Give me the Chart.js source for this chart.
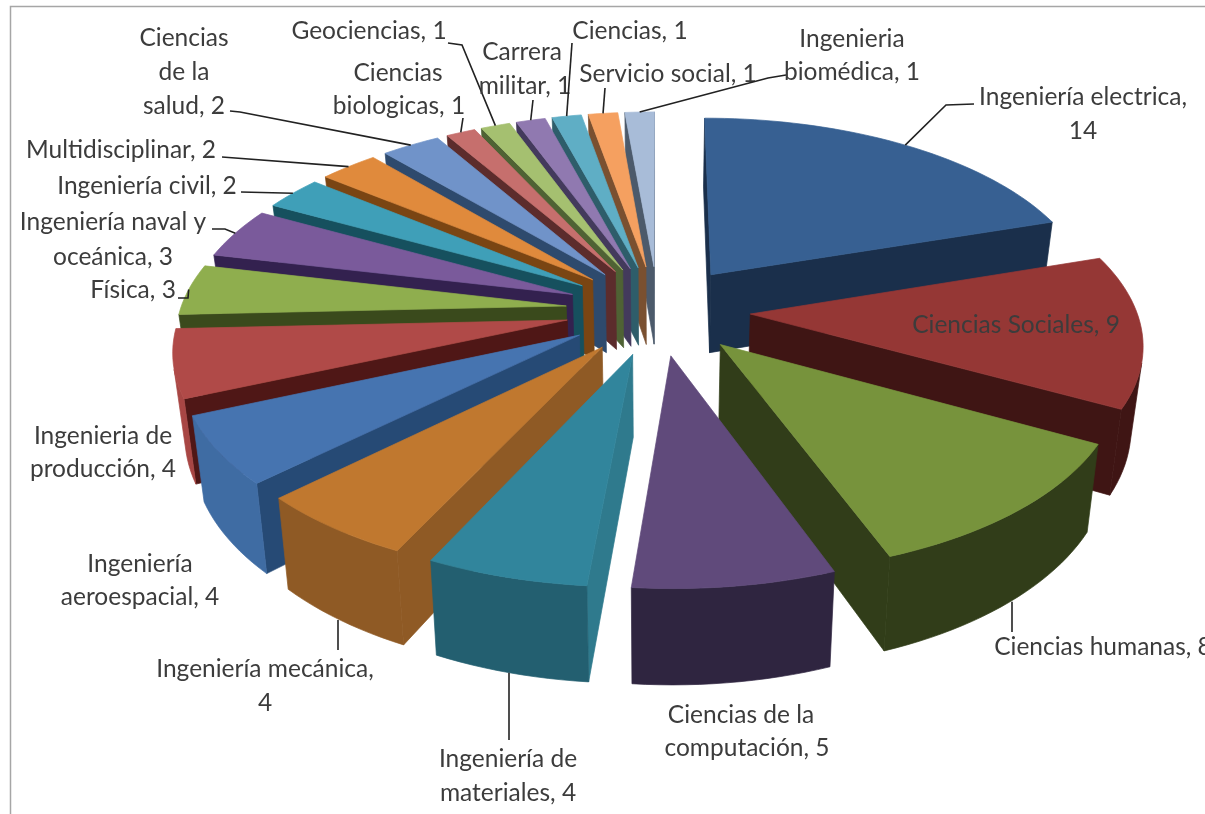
<!DOCTYPE html>
<html>
<head>
<meta charset="utf-8">
<style>
  html, body { margin: 0; padding: 0; background: #fff; }
  canvas { display: block; filter: blur(0.5px); }
</style>
<script src="https://cdn.jsdelivr.net/npm/chart.js@4"></script>
</head>
<body>
<canvas id="pieChart" width="1205" height="814"></canvas>
<script>
const categories = [
  "Ingeniería electrica", "Ciencias Sociales", "Ciencias humanas", "Ciencias de la computación",
  "Ingeniería de materiales", "Ingeniería mecánica", "Ingeniería aeroespacial", "Ingenieria de producción",
  "Física", "Ingeniería naval y oceánica", "Ingeniería civil", "Multidisciplinar",
  "Ciencias de la salud", "Ciencias biologicas", "Geociencias", "Carrera militar",
  "Ciencias", "Servicio social", "Ingenieria biomédica",
];
const counts = [14, 9, 8, 5, 4, 4, 4, 4, 3, 3, 2, 2, 2, 1, 1, 1, 1, 1, 1];

const topColors = [
  "#376092", "#953735", "#77933c", "#604a7b", "#31859c", "#c0782f", "#4674b0", "#b04a48",
  "#8fae4e", "#7a5a9b", "#3f9fb8", "#e08a3c", "#7093c9", "#c66f6d", "#a5c070", "#9079b0",
  "#5faec5", "#f5a060", "#a8bcd8",
];
const outerColors = [
  "#1a2f4b", "#3f1514", "#313d19", "#2f2540", "#235f70", "#8f5a25", "#3f6ca3", "#a84644",
  "#3a4a1c", "#33214f", "#16505e", "#7a4513", "#2e4a6d", "#5c2c2c", "#4f6234", "#433a5c",
  "#2e5d6a", "#7a5030", "#4c5a6b",
];
const sideColors = [
  "#1a2f4b", "#3f1514", "#313d19", "#2f2540", "#2f7a8d", "#8f5a25", "#264a75", "#4f1716",
  "#3a4a1c", "#33214f", "#16505e", "#7a4513", "#2e4a6d", "#5c2c2c", "#4f6234", "#433a5c",
  "#2e5d6a", "#7a5030", "#4c5a6b",
];

// label layout: centred text lines, plus the elbow points of the leader line (ends on the slice)
const labelLayout = [
  { lines: [["Ingeniería electrica,", 1083, 97], ["14", 1083, 131]], leader: [[974, 104], [946, 105]] },
  { lines: [["Ciencias Sociales, 9", 1016, 325]] },
  { lines: [["Ciencias humanas, 8", 1103, 647]], leader: [[1012, 632]], bottom: true, anchorX: 1012 },
  { lines: [["Ciencias de la", 741, 715], ["computación, 5", 747, 748]] },
  { lines: [["Ingeniería de", 508, 759], ["materiales, 4", 508, 793]], leader: [[509, 740]], bottom: true, anchorX: 509 },
  { lines: [["Ingeniería mecánica,", 265, 669], ["4", 265, 703]], leader: [[338, 650]], bottom: true, anchorX: 338 },
  { lines: [["Ingeniería", 140, 564], ["aeroespacial, 4", 140, 597]] },
  { lines: [["Ingenieria de", 103, 436], ["producción, 4", 103, 469]] },
  { lines: [["Física, 3", 133, 290]], leader: [[178, 298], [188, 298]] },
  { lines: [["Ingeniería naval y", 113, 222], ["oceánica, 3", 113, 257]], leader: [[212, 229], [225, 229]] },
  { lines: [["Ingeniería civil, 2", 147, 186]], leader: [[241, 192]] },
  { lines: [["Multidisciplinar, 2", 121, 150]], leader: [[222, 157]] },
  { lines: [["Ciencias", 184, 38], ["de la", 184, 72], ["salud, 2", 184, 106]], leader: [[230, 111], [240, 112]] },
  { lines: [["Ciencias", 398, 73], ["biologicas, 1", 399, 106]], leader: [[463, 118]] },
  { lines: [["Geociencias, 1", 369, 31]], leader: [[448, 43], [462, 45]] },
  { lines: [["Carrera", 522, 52], ["militar, 1", 525, 86]], leader: [[533, 100]] },
  { lines: [["Ciencias, 1", 630, 31]], leader: [[572, 43]] },
  { lines: [["Servicio social, 1", 668, 74]], leader: [[605, 88]] },
  { lines: [["Ingenieria", 852, 39], ["biomédica, 1", 852, 72]], leader: [[786, 75], [768, 78]] },
];

// view of the tilted pie, fitted by eye to the reference
const view = { cx: 658, cy: 310, rx: 386, ry: 187, persp: 0.137, depth: 80, shrink: 0.025 };

function project(wx, wy, z) {
  const f = 1 / (1 - view.persp * wy);
  return [
    view.cx + view.rx * wx * f * (1 - view.shrink * z),
    view.cy + view.ry * wy * f + view.depth * z * f,
  ];
}

function fillPoly(ctx, pts, color) {
  ctx.beginPath();
  pts.forEach((p, i) => (i ? ctx.lineTo(p[0], p[1]) : ctx.moveTo(p[0], p[1])));
  ctx.closePath();
  ctx.fillStyle = color;
  ctx.strokeStyle = color;
  ctx.lineWidth = 0.7;
  ctx.fill();
  ctx.stroke();
}

function area(pts) {
  let s = 0;
  pts.forEach((p, i) => {
    const q = pts[(i + 1) % pts.length];
    s += p[0] * q[1] - q[0] * p[1];
  });
  return s / 2;
}

// slice geometry comes from the arc elements the pie controller has laid out
function sliceShape(arc) {
  const a0 = arc.startAngle + Math.PI / 2;
  const a1 = arc.endAngle + Math.PI / 2;
  const mid = (a0 + a1) / 2;
  const e = arc.options.offset / arc.outerRadius;
  const ox = Math.sin(mid) * e;
  const oy = -Math.cos(mid) * e;
  const rim = [];
  const steps = Math.max(4, Math.ceil((a1 - a0) / 0.03));
  for (let i = 0; i <= steps; i++) {
    const a = a0 + ((a1 - a0) * i) / steps;
    rim.push([ox + Math.sin(a), oy - Math.cos(a)]);
  }
  return { apex: [ox, oy], rim, mid, ox, oy };
}

const tiltedPie = {
  id: "tiltedPie",
  beforeDraw(chart) {
    const { ctx, width, height } = chart;
    ctx.save();
    ctx.fillStyle = "#fff";
    ctx.fillRect(0, 0, width, height);
    ctx.strokeStyle = "#a6a6a6";
    ctx.lineWidth = 1.5;
    ctx.beginPath();
    ctx.moveTo(width, 6.5);
    ctx.lineTo(10.5, 6.5);
    ctx.lineTo(10.5, height);
    ctx.stroke();
    ctx.restore();
  },
  beforeDatasetDraw() {
    return false; // default flat arcs are replaced by the tilted drawing below
  },
  afterDatasetsDraw(chart) {
    const { ctx } = chart;
    const arcs = chart.getDatasetMeta(0).data;
    const order = arcs.map((arc, i) => ({ i, s: sliceShape(arc) }));
    order.sort((a, b) => a.s.oy - b.s.oy);

    ctx.save();
    order.forEach(({ i, s }) => {
      const up = (p) => project(p[0], p[1], 0);
      const down = (p) => project(p[0], p[1], 1);
      const first = s.rim[0];
      const last = s.rim[s.rim.length - 1];
      // radial walls, drawn only when they face the viewer
      [[s.apex, first], [last, s.apex]].forEach(([p, q]) => {
        const wall = [up(p), up(q), down(q), down(p)];
        if (area(wall) < 0) fillPoly(ctx, wall, sideColors[i]);
      });
      // outer wall, one strip over the part of the rim that faces the viewer
      const seen = s.rim.filter((p, k) => {
        const n = s.rim[Math.min(k + 1, s.rim.length - 1)];
        const b = s.rim[Math.max(k - 1, 0)];
        return area([up(b), up(n), down(n), down(b)]) < 0;
      });
      if (seen.length > 1) {
        fillPoly(ctx, [...seen.map(up), ...seen.slice().reverse().map(down)], outerColors[i]);
      }
      fillPoly(ctx, [up(s.apex), ...s.rim.map(up)], topColors[i]);
    });
    ctx.restore();
  },
  afterDraw(chart) {
    const { ctx } = chart;
    const arcs = chart.getDatasetMeta(0).data;
    ctx.save();
    ctx.font = "24.5px Lato";
    ctx.textAlign = "center";
    ctx.textBaseline = "middle";
    labelLayout.forEach((label, i) => {
      if (label.leader) {
        const s = sliceShape(arcs[i]);
        const wx = s.ox + Math.sin(s.mid);
        const wy = s.oy - Math.cos(s.mid);
        const end = project(wx, wy, label.bottom ? 1 : 0);
        if (label.anchorX) end[0] = label.anchorX;
        ctx.beginPath();
        label.leader.forEach((p, k) => (k ? ctx.lineTo(p[0], p[1]) : ctx.moveTo(p[0], p[1])));
        ctx.lineTo(end[0], end[1]);
        ctx.strokeStyle = "#222";
        ctx.lineWidth = 1.6;
        ctx.stroke();
      }
      ctx.fillStyle = "#3c3c3c";
      label.lines.forEach(([text, x, y]) => ctx.fillText(text, x, y));
    });
    ctx.restore();
  },
};

new Chart(document.getElementById("pieChart").getContext("2d"), {
  type: "pie",
  data: {
    labels: categories,
    datasets: [{ data: counts, backgroundColor: topColors, borderWidth: 0, offset: 87 }],
  },
  options: {
    responsive: false,
    animation: false,
    plugins: { legend: { display: false }, tooltip: { enabled: false } },
  },
  plugins: [tiltedPie],
});
</script>
</body>
</html>
